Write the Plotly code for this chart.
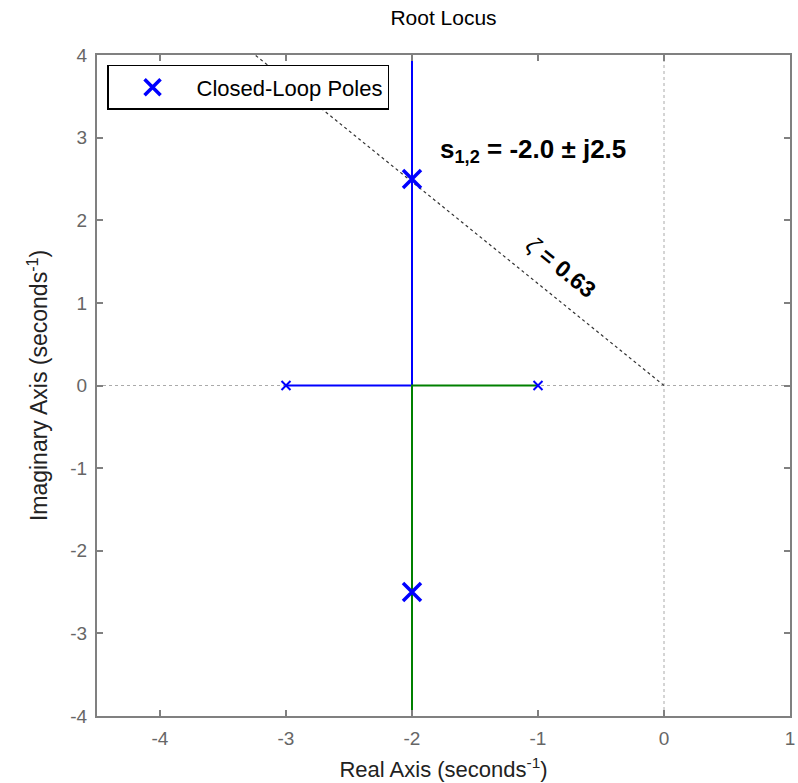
import plotly.graph_objects as go

# Open-loop poles of the system (on the real axis)
ol_poles_re = [-3.0, -1.0]
ol_poles_im = [0.0, 0.0]

# Locus branches (the vertical part runs off to +/- infinity)
branch1_re = [-3.0, -2.0, -2.0]
branch1_im = [0.0, 0.0, 6.0]
branch2_re = [-1.0, -2.0, -2.0]
branch2_im = [0.0, 0.0, -6.0]

# Selected closed-loop poles s = -2.0 +/- j2.5
cl_poles_re = [-2.0, -2.0]
cl_poles_im = [2.5, -2.5]

# Damping ratio of the constant-zeta line
zeta = 0.63

x_ticks = [-4, -3, -2, -1, 0, 1]
y_ticks = [-4, -3, -2, -1, 0, 1, 2, 3, 4]
x_range = [-4.5, 1.0]
y_range = [-4.0, 4.0]

FONT = "Arial, Liberation Sans, Helvetica, sans-serif"
BLUE = "#0000FF"
GREEN = "#008000"

# constant damping ratio line from the origin up to the top of the axes
slope = -((1 - zeta ** 2) ** 0.5) / zeta
zeta_x_end = y_range[1] / slope

fig = go.Figure()

fig.add_trace(go.Scatter(
    x=[0, zeta_x_end], y=[0, y_range[1]], mode="lines",
    line=dict(color="#333333", width=1.2, dash="dot"),
    showlegend=False, hoverinfo="skip"))

fig.add_trace(go.Scatter(
    x=branch1_re, y=branch1_im, mode="lines",
    line=dict(color=BLUE, width=2), showlegend=False))
fig.add_trace(go.Scatter(
    x=branch2_re, y=branch2_im, mode="lines",
    line=dict(color=GREEN, width=2), showlegend=False))

fig.add_trace(go.Scatter(
    x=ol_poles_re, y=ol_poles_im, mode="markers",
    marker=dict(symbol="x-thin", size=9, line=dict(color=BLUE, width=2)),
    showlegend=False))

fig.add_trace(go.Scatter(
    x=cl_poles_re, y=cl_poles_im, mode="markers", name="Closed-Loop Poles",
    marker=dict(symbol="x-thin", size=18, color=BLUE,
                line=dict(color=BLUE, width=3.5)),
    showlegend=True))

# dotted reference lines through the origin
fig.add_shape(type="line", xref="x", yref="paper", x0=0, x1=0, y0=0, y1=1,
              line=dict(color="#AAAAAA", width=1, dash="dot"), layer="below")
fig.add_shape(type="line", xref="paper", yref="y", x0=0, x1=1, y0=0, y1=0,
              line=dict(color="#AAAAAA", width=1, dash="dot"), layer="below")

fig.add_annotation(
    x=-1.04, y=2.84, xref="x", yref="y", showarrow=False,
    text="<b>s<sub>1,2</sub> = %.1f ± j%.1f</b>" % (cl_poles_re[0], cl_poles_im[0]),
    font=dict(family=FONT, size=26, color="black"))

fig.add_annotation(
    x=-0.82, y=1.43, xref="x", yref="y", showarrow=False, textangle=39,
    text="<i>ζ</i><b> = %.2f</b>" % zeta,
    font=dict(family=FONT, size=23, color="black"))

axis_common = dict(
    showline=True, linecolor="#808080", linewidth=2, mirror="ticks",
    ticks="inside", ticklen=6, tickwidth=1.5, tickcolor="#808080",
    showgrid=False, zeroline=False, ticklabelstandoff=4, automargin=False,
    tickfont=dict(family=FONT, size=19, color="#666666"),
)

fig.update_layout(
    width=798, height=783,
    margin=dict(l=97, r=8, t=55, b=67),
    paper_bgcolor="white", plot_bgcolor="white",
    title=dict(text="Root Locus", x=0.5, xref="paper", y=1 - 18 / 783,
               yanchor="middle", font=dict(family=FONT, size=21, color="black")),
    xaxis=dict(range=x_range, tickvals=x_ticks,
               ticktext=[str(v) for v in x_ticks],
               title=dict(text="Real Axis (seconds<sup>-1</sup>)",
                          font=dict(family=FONT, size=22, color="#222222"),
                          standoff=14),
               **axis_common),
    yaxis=dict(range=y_range, tickvals=y_ticks,
               ticktext=[str(v) for v in y_ticks],
               title=dict(text="Imaginary Axis (seconds<sup>-1</sup>)",
                          font=dict(family=FONT, size=23, color="#222222"),
                          standoff=16),
               **axis_common),
    legend=dict(x=0.0145, y=0.985, xanchor="left", yanchor="top",
                bordercolor="black", borderwidth=1.5, bgcolor="white",
                itemwidth=78,
                font=dict(family=FONT, size=22, color="black")),
    showlegend=True,
)

fig.write_html("out.html")
